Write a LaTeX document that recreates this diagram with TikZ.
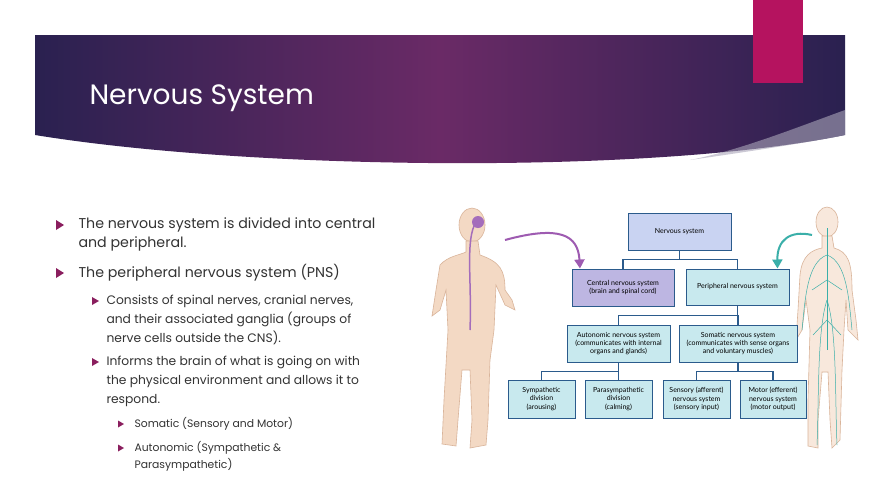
\documentclass[tikz,border=0pt]{standalone}
\usepackage{fontspec}
\setmainfont{Lato}
\newfontfamily\slidefont{Poppins}
\usetikzlibrary{arrows.meta}
\definecolor{boxfill}{HTML}{C8E9EE}
\definecolor{cnsfill}{HTML}{BDB6E2}
\definecolor{topfill}{HTML}{C9D3F2}
\definecolor{lineblue}{HTML}{2B5B8C}
\definecolor{bannerA}{HTML}{2A2150}
\definecolor{bannerB}{HTML}{6A2A66}
\definecolor{mag}{HTML}{B5135F}
\definecolor{bul}{HTML}{8A1E5E}
\definecolor{skin}{HTML}{F3D9C4}
\definecolor{skinline}{HTML}{D9B49A}
\definecolor{nerve}{HTML}{3AAFA9}
\begin{document}
\begin{tikzpicture}[x=1pt,y=-1pt,
  box/.style={draw=lineblue,line width=1pt,fill=boxfill,align=center,font=\fontsize{7}{8.2}\selectfont,inner sep=1pt},
  conn/.style={draw=lineblue,line width=1.3pt},
  txt/.style={anchor=west,font=\slidefont\fontsize{14.2}{19}\selectfont,text=black!80},
  sub/.style={anchor=west,font=\slidefont\fontsize{12.3}{19}\selectfont,text=black!80,align=left},
  subsub/.style={anchor=west,font=\slidefont\fontsize{10.8}{17}\selectfont,text=black!80,align=left},
  tri/.style={fill=bul}]
\useasboundingbox (0,0) rectangle (880,496);
\fill[white] (0,0) rectangle (880,496);
% banner
\shade[left color=bannerA,right color=bannerA,middle color=bannerB]
  (35,35) -- (845,35) -- (845,135) .. controls (650,175) and (250,170) .. (35,135) -- cycle;
\fill[white!60!bannerA,opacity=0.6] (845,110) .. controls (790,130) and (740,150) .. (690,160) .. controls (760,150) and (810,142) .. (845,135) -- cycle;
\fill[mag] (753,0) rectangle (803,83);
\node[anchor=west,text=white,font=\slidefont\fontsize{28}{34}\selectfont] (title) at (86,98) {Nervous System};
% bullets
\foreach \y in {225,273}{\fill[tri] (56,\y-5) -- (64,\y) -- (56,\y+5) -- cycle;}
\foreach \y in {301,362}{\fill[tri] (92,\y-4) -- (99,\y) -- (92,\y+4) -- cycle;}
\foreach \y in {424,448}{\fill[tri] (118,\y-3.5) -- (124,\y) -- (118,\y+3.5) -- cycle;}
\node[txt,align=left] (t1) at (75,234) {The nervous system is divided into central\\and peripheral.};
\node[txt] (t2) at (75,273) {The peripheral nervous system (PNS)};
\node[sub] (t3) at (103,320) {Consists of spinal nerves, cranial nerves,\\and their associated ganglia (groups of\\nerve cells outside the CNS).};
\node[sub] (t4) at (103,381) {Informs the brain of what is going on with\\the physical environment and allows it to\\respond.};
\node[subsub] (t5) at (131,424) {Somatic (Sensory and Motor)};
\node[subsub] (t6) at (131,456) {Autonomic (Sympathetic \&\\Parasympathetic)};
% left body
\begin{scope}[fill=skin,draw=skinline,line width=0.6pt]
\filldraw (472,225) ellipse (13 and 17);
\filldraw (466,241) -- (478,241) -- (480,255) .. controls (500,262) and (505,270) .. (505,290)
 -- (512,300) -- (515,310) -- (505,305) -- (496,285) -- (494,330) -- (490,360) -- (488,420) -- (486,445)
 -- (470,448) -- (472,420) -- (470,370) -- (462,370) -- (458,420) -- (456,446) -- (442,444) -- (444,400)
 -- (448,330) -- (446,290) -- (440,310) -- (432,316) -- (436,290) -- (440,265) .. controls (448,256) and (460,255) .. (466,252) -- cycle;
\end{scope}
\draw[cnsfill!60!violet,line width=1.5pt] (476,222) .. controls (465,240) and (472,280) .. (470,330);
\fill[cnsfill!60!violet] (478,222) circle (6);
% right body
\begin{scope}[fill=skin!60,draw=skinline,line width=0.6pt]
\filldraw (827,222) ellipse (11 and 15);
\filldraw (822,236) -- (832,236) -- (834,248) .. controls (848,252) and (852,262) .. (852,290)
 -- (856,320) -- (858,340) -- (848,330) -- (846,300) -- (844,330) -- (842,370) -- (840,440) -- (832,448) -- (830,420)
 -- (828,372) -- (822,372) -- (818,420) -- (818,448) -- (808,446) -- (808,400) -- (810,330) -- (806,300)
 -- (802,330) -- (796,340) -- (798,310) -- (800,275) .. controls (802,255) and (812,250) .. (822,248) -- cycle;
\end{scope}
\draw[nerve,line width=0.8pt] (827,228) -- (827,350);
\foreach \a in {-1,1}{
 \draw[nerve,line width=0.5pt] (827,255) .. controls (827+20*\a,262) and (827+22*\a,300) .. (827+25*\a,330);
 \draw[nerve,line width=0.5pt] (827,300) .. controls (827+10*\a,330) and (827+8*\a,400) .. (827+10*\a,445);
 \draw[nerve,line width=0.5pt] (827,280) -- (827+15*\a,290);
 \draw[nerve,line width=0.5pt] (827,320) -- (827+14*\a,335);}
% curved arrows
\coordinate (pa) at (505,240);
\coordinate (ta) at (812,235);
% chart
\node[box,fill=topfill,minimum width=103pt,minimum height=37pt] (ns) at (679.5,231.5) {Nervous system};
\node[box,fill=cnsfill,minimum width=102pt,minimum height=37pt] (cns) at (623,287.5) {Central nervous system\\(brain and spinal cord)};
\node[box,minimum width=103pt,minimum height=36pt] (pns) at (737.5,287) {Peripheral nervous system};
\node[box,minimum width=103pt,minimum height=37pt] (ans) at (618.5,343.5) {Autonomic nervous system\\(communicates with internal\\organs and glands)};
\node[box,minimum width=118pt,minimum height=37pt] (sns) at (738,343.5) {Somatic nervous system\\(communicates with sense organs\\and voluntary muscles)};
\node[box,minimum width=67pt,minimum height=38pt] (sym) at (541.5,399) {Sympathetic\\division\\(arousing)};
\node[box,minimum width=67pt,minimum height=38pt] (par) at (618.5,399) {Parasympathetic\\division\\(calming)};
\node[box,minimum width=67pt,minimum height=38pt] (sen) at (696.5,399) {Sensory (afferent)\\nervous system\\(sensory input)};
\node[box,minimum width=66pt,minimum height=38pt] (mot) at (773,399) {Motor (efferent)\\nervous system\\(motor output)};
\draw[conn] (ns.south) -- ++(0,9) -| (cns.north);
\draw[conn] (ns.south) -- ++(0,9) -| (pns.north);
\draw[conn] (pns.south) -- ++(0,10) -| (ans.north);
\draw[conn] (pns.south) -- ++(0,10) -| (sns.north);
\draw[conn] (ans.south) -- ++(0,9) -| (sym.north);
\draw[conn] (ans.south) -- ++(0,9) -| (par.north);
\draw[conn] (sns.south) -- ++(0,9) -| (sen.north);
\draw[conn] (sns.south) -- ++(0,9) -| (mot.north);
\draw[cnsfill!50!violet,line width=2pt,-{Triangle[width=10pt,length=9pt]}] (pa) .. controls (560,225) and (578,235) .. ([xshift=-43pt]cns.north);
\draw[nerve,line width=2pt,-{Triangle[width=10pt,length=9pt]}] (ta) .. controls (790,230) and (777,240) .. ([xshift=40pt]pns.north);
\end{tikzpicture}
\end{document}
